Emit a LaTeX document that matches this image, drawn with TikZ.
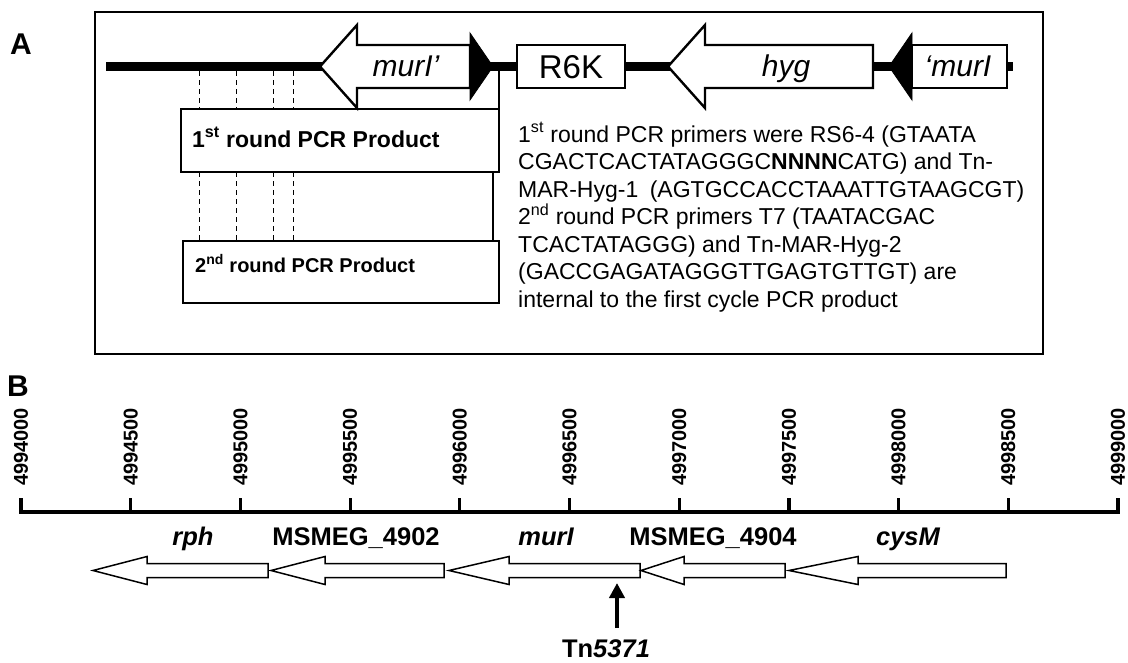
\documentclass[tikz,border=0pt]{standalone}
\usepackage{fontspec}
\setmainfont{Liberation Sans}
\usetikzlibrary{arrows.meta}
\begin{document}
\begin{tikzpicture}[x=1pt,y=-1pt,
  frame/.style={draw=black,line width=2.2pt},
  dna/.style={draw=black,line width=9.5pt},
  genebig/.style={draw=black,fill=white,line width=2.4pt,line join=miter},
  blacktri/.style={fill=black,draw=black,line width=0.8pt},
  pcrbox/.style={draw=black,line width=1.3pt},
  guide/.style={draw=black,line width=1pt,dash pattern=on 5pt off 4pt},
  thinline/.style={draw=black,line width=1.2pt},
  panellbl/.style={font=\fontsize{30}{30}\selectfont\bfseries,inner sep=0pt},
  lblA/.style={font=\fontsize{30}{30}\selectfont\itshape,inner sep=0pt,anchor=base},
  pcrtxt/.style={font=\fontsize{23}{23}\selectfont\bfseries,inner sep=0pt,anchor=base west},
  primertxt/.style={font=\fontsize{23}{23}\selectfont,inner sep=0pt,anchor=base west},
  axisline/.style={draw=black,line width=4pt},
  tickline/.style={draw=black,line width=3.2pt},
  ticklbl/.style={font=\fontsize{20}{20}\selectfont\bfseries,inner sep=0pt,rotate=90,anchor=west},
  genesmall/.style={draw=black,fill=white,line width=1.5pt,line join=miter},
  genelbl/.style={font=\fontsize{25.5}{25.5}\selectfont\bfseries,inner sep=0pt,anchor=base},
  tnarrow/.style={draw=black,line width=4pt,-{Triangle[width=15pt,length=15pt]}}
]
\useasboundingbox (0,0) rectangle (1128,662);

% ---------------- Panel A ----------------
\node[panellbl] (labA) at (21,44) {A};
\draw[frame] (95,12) rectangle (1043,354);

% DNA backbone
\coordinate (dnaL) at (106,66.5);
\coordinate (dnaR) at (1013,66.5);
\draw[dna] (dnaL) -- (dnaR);

% murI' arrow
\draw[genebig] (320,66.5) -- (357,25) -- (357,45) -- (470,45) -- (470,88) -- (357,88) -- (357,108) -- cycle;
\fill[blacktri] (470,33) -- (493,66.5) -- (470,100) -- cycle;
% R6K box
\draw[genebig] (517,45) rectangle (625,88);
% hyg arrow
\draw[genebig] (668,66.5) -- (705,25) -- (705,45) -- (873,45) -- (873,88) -- (705,88) -- (705,108) -- cycle;
\fill[blacktri] (889,66.5) -- (912,33) -- (912,100) -- cycle;
% 'murI box
\draw[genebig] (912,45) rectangle (1007,88);

\node[lblA] (murIp) at (406,76) {murI’};
\node[font=\fontsize{33}{33}\selectfont,inner sep=0pt,anchor=base] (r6k) at (571,78) {R6K};
\node[lblA] (hyg) at (786,76) {hyg};
\node[lblA] (pmurI) at (958,76) {‘murI};

% PCR products
\draw[pcrbox] (181,109) rectangle (499,172);
\draw[pcrbox] (183,241) rectangle (499,303);
\draw[thinline] (499,71) -- (499,109);
\draw[thinline] (493,172) -- (493,241);
\foreach \gx in {199,236,273,293}{
  \draw[guide] (\gx,71) -- (\gx,109);
  \draw[guide] (\gx,172) -- (\gx,241);
}
\node[pcrtxt] (pcr1) at (192,147) {1\textsuperscript{st} round PCR Product};
\node[pcrtxt,font=\fontsize{20}{20}\selectfont\bfseries] (pcr2) at (195,272) {2\textsuperscript{nd} round PCR Product};

% primer description
\node[primertxt] (p1) at (518,142) {1\textsuperscript{st} round PCR primers were RS6-4 (GTAATA};
\node[primertxt] (p2) at (518,169.5) {CGACTCACTATAGGGC\textbf{NNNN}CATG) and Tn-};
\node[primertxt] (p3) at (518,197) {MAR-Hyg-1\hspace{0.5em}(AGTGCCACCTAAATTGTAAGCGT)};
\node[primertxt] (p4) at (518,224.5) {2\textsuperscript{nd} round PCR primers T7 (TAATACGAC};
\node[primertxt] (p5) at (518,252) {TCACTATAGGG) and Tn-MAR-Hyg-2};
\node[primertxt] (p6) at (518,279.5) {(GACCGAGATAGGGTTGAGTGTTGT) are};
\node[primertxt] (p7) at (518,307) {internal to the first cycle PCR product};

% ---------------- Panel B ----------------
\node[panellbl] (labB) at (18,386) {B};
\coordinate (axL) at (19,512);
\coordinate (axR) at (1120,512);
\draw[axisline] (axL) -- (axR);
\foreach \k in {0,...,10}{
  \pgfmathsetmacro{\tx}{21+109.7*\k}
  \draw[tickline] (\tx,513) -- (\tx,498);
  \node[ticklbl] (tick\k) at (\tx,486) {\the\numexpr 4994000+500*\k\relax};
}

% genes
\draw[genesmall] (93,570.5) -- (147,556.5) -- (147,563.5) -- (268,563.5) -- (268,577.5) -- (147,577.5) -- (147,584.5) -- cycle;
\draw[genesmall] (271,570.5) -- (325,556.5) -- (325,563.5) -- (444,563.5) -- (444,577.5) -- (325,577.5) -- (325,584.5) -- cycle;
\draw[genesmall] (449,570.5) -- (509,556.5) -- (509,563.5) -- (640,563.5) -- (640,577.5) -- (509,577.5) -- (509,584.5) -- cycle;
\draw[genesmall] (641,570.5) -- (684,556.5) -- (684,563.5) -- (785,563.5) -- (785,577.5) -- (684,577.5) -- (684,584.5) -- cycle;
\draw[genesmall] (789,570.5) -- (858,556.5) -- (858,563.5) -- (1006,563.5) -- (1006,577.5) -- (858,577.5) -- (858,584.5) -- cycle;

\node[genelbl] (rph) at (193,545) {\itshape rph};
\node[genelbl] (m4902) at (356,545) {MSMEG\_4902};
\node[genelbl] (murI) at (546,545) {\itshape murI};
\node[genelbl] (m4904) at (713,545) {MSMEG\_4904};
\node[genelbl] (cysM) at (908,545) {\itshape cysM};

% transposon insertion
\node[genelbl] (tn) at (606,657) {Tn\textit{5371}};
\coordinate (tnbase) at (617,628);
\coordinate (tntip) at (617,583);
\draw[tnarrow] (tnbase) -- (tntip);
\end{tikzpicture}
\end{document}
